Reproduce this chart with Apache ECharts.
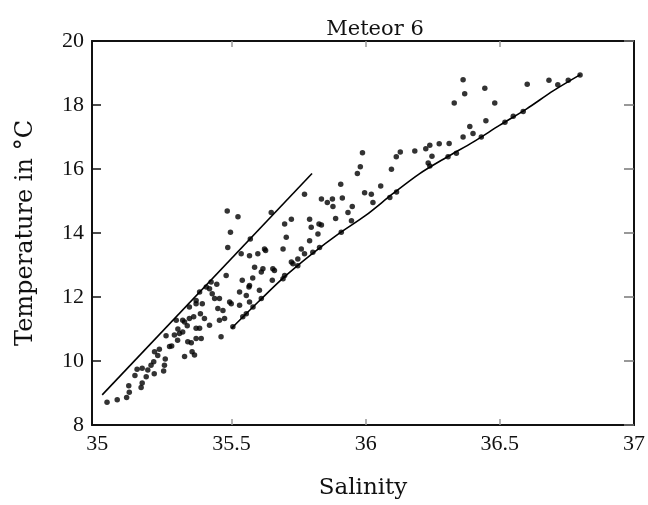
<!DOCTYPE html>
<html>
<head>
<meta charset="utf-8">
<script src="https://cdn.jsdelivr.net/npm/echarts@6/dist/echarts.min.js"></script>
<style>
  html, body { margin: 0; padding: 0; background: #fff; }
  #chart { width: 648px; height: 505px; }
</style>
</head>
<body>
<div id="chart"></div>
<script>
const salinity = [
  35.036, 35.074, 35.109, 35.119, 35.117, 35.163, 35.167, 35.182, 35.148, 35.167,
  35.188, 35.200, 35.210, 35.213, 35.231, 35.225, 35.253, 35.250, 35.247, 35.269,
  35.277, 35.256, 35.287, 35.318, 35.325, 35.350, 35.353, 35.362, 35.368, 35.325,
  35.359, 35.384, 35.368, 35.299, 35.337, 35.306, 35.294, 35.343, 35.368, 35.381,
  35.406, 35.424, 35.418, 35.437, 35.455, 35.449, 35.468, 35.391, 35.399, 35.418,
  35.381, 35.455, 35.474, 35.505, 35.461, 35.486, 35.536, 35.567, 35.598, 35.627,
  35.586, 35.611, 35.480, 35.540, 35.579, 35.565, 35.604, 35.493, 35.530, 35.567,
  35.530, 35.555, 35.567, 35.542, 35.499, 35.484, 35.524, 35.496, 35.772, 35.835,
  35.857, 35.723, 35.698, 35.791, 35.797, 35.826, 35.822, 35.704, 35.692, 35.760,
  35.791, 35.828, 35.747, 35.723, 35.772, 35.617, 35.660, 35.698, 35.747, 35.623,
  35.654, 35.988, 35.980, 35.969, 35.907, 35.876, 35.878, 35.913, 35.996, 36.021,
  36.027, 36.056, 36.096, 36.114, 36.129, 35.950, 35.934, 35.888, 35.835, 36.363,
  36.369, 36.330, 36.444, 36.481, 36.448, 36.388, 36.400, 36.363, 36.311, 36.274,
  36.239, 36.224, 36.183, 36.247, 36.233, 36.602, 36.683, 36.519, 36.550, 36.587,
  36.716, 36.755, 36.799, 36.338, 36.307, 36.431, 36.090, 36.115, 35.947, 35.909,
  35.803, 35.652, 35.692, 35.729, 35.611, 35.580, 35.555, 36.239, 35.648, 35.570,
  35.318, 35.343, 35.387, 35.368, 35.428, 35.335, 35.300, 35.445, 35.212, 35.140
];
const temperature = [
  8.71, 8.79, 8.86, 9.02, 9.23, 9.17, 9.31, 9.51, 9.74, 9.77,
  9.72, 9.87, 9.98, 10.29, 10.37, 10.17, 10.06, 9.87, 9.69, 10.45,
  10.47, 10.79, 10.81, 10.91, 10.14, 10.57, 10.29, 10.19, 11.02, 11.22,
  11.38, 11.48, 11.79, 10.65, 10.60, 10.86, 11.27, 11.69, 11.89, 12.16,
  12.31, 12.47, 12.26, 11.95, 11.95, 11.64, 11.58, 11.79, 11.33, 11.12,
  11.02, 11.27, 11.33, 11.07, 10.76, 13.55, 13.35, 13.29, 13.35, 13.45,
  12.93, 12.78, 12.67, 12.52, 12.59, 12.31, 12.21, 11.84, 11.74, 11.84,
  12.16, 12.05, 12.36, 11.38, 11.79, 14.69, 14.51, 14.02, 15.21, 15.06,
  14.95, 14.43, 14.28, 14.43, 14.18, 14.28, 13.97, 13.87, 13.50, 13.50,
  13.76, 13.55, 13.19, 13.09, 13.35, 12.88, 12.83, 12.67, 12.98, 13.50,
  12.88, 16.51, 16.07, 15.86, 15.52, 15.06, 14.83, 15.09, 15.26, 15.21,
  14.95, 15.47, 15.99, 16.38, 16.53, 14.83, 14.64, 14.45, 14.25, 18.79,
  18.35, 18.06, 18.52, 18.06, 17.51, 17.33, 17.11, 17.00, 16.80, 16.79,
  16.74, 16.63, 16.56, 16.40, 16.19, 18.65, 18.77, 17.46, 17.65, 17.80,
  18.63, 18.77, 18.94, 16.49, 16.38, 17.00, 15.11, 15.28, 14.38, 14.02,
  13.40, 12.52, 12.57, 13.04, 11.95, 11.69, 11.48, 16.09, 14.64, 13.81,
  11.27, 11.33, 10.70, 10.70, 12.10, 11.10, 11.00, 12.40, 9.60, 9.55
];

// upper boundary line
const upperSal = [35.018, 35.80];
const upperTemp = [8.94, 15.86];

// lower boundary curve
const lowerSal = [35.50, 35.60, 35.70, 35.80, 35.90, 36.00, 36.10, 36.20, 36.30, 36.40, 36.50, 36.60, 36.70, 36.80];
const lowerTemp = [11.02, 11.85, 12.65, 13.35, 13.98, 14.55, 15.22, 15.85, 16.36, 16.84, 17.37, 17.88, 18.45, 18.95];

const xLabels = [35, 35.5, 36, 36.5, 37];
const xInnerTicks = [35.5, 36, 36.5];

const labelFont = '"Liberation Serif", "DejaVu Serif", serif';
const nameFont = '"DejaVu Serif", "Liberation Serif", serif';

const chart = echarts.init(document.getElementById('chart'));

const points = salinity.map((s, i) => [s, temperature[i]]);
const upper = upperSal.map((s, i) => [s, upperTemp[i]]);
const lower = lowerSal.map((s, i) => [s, lowerTemp[i]]);

const option = {
  animation: false,
  backgroundColor: '#fff',
  title: {
    text: 'Meteor 6',
    left: 370,
    top: 14,
    textAlign: 'center',
    textStyle: { fontFamily: nameFont, fontSize: 21, fontWeight: 'normal', color: '#111' }
  },
  grid: { left: 92, right: 14, top: 41, bottom: 78 },
  xAxis: [
    {
      type: 'value',
      min: 34.98,
      max: 37,
      position: 'bottom',
      name: 'Salinity',
      nameLocation: 'middle',
      nameGap: 52,
      nameTextStyle: { fontFamily: nameFont, fontSize: 23, color: '#111' },
      axisLine: { lineStyle: { color: '#111', width: 2 } },
      axisTick: { inside: true, length: 6, customValues: xInnerTicks, lineStyle: { color: '#999', width: 1.5 } },
      axisLabel: { customValues: xLabels, fontFamily: labelFont, fontSize: 22, color: '#111', margin: 8 },
      splitLine: { show: false }
    },
    {
      type: 'value',
      min: 34.98,
      max: 37,
      position: 'top',
      axisLine: { lineStyle: { color: '#111', width: 2 } },
      axisTick: { inside: true, length: 6, customValues: xInnerTicks, lineStyle: { color: '#999', width: 1.5 } },
      axisLabel: { show: false },
      splitLine: { show: false }
    }
  ],
  yAxis: [
    {
      type: 'value',
      min: 8,
      max: 20,
      interval: 2,
      position: 'left',
      name: 'Temperature in °C',
      nameLocation: 'middle',
      nameGap: 54,
      nameTextStyle: { fontFamily: nameFont, fontSize: 24, color: '#111' },
      axisLine: { show: true, lineStyle: { color: '#111', width: 2 } },
      axisTick: { show: true, inside: true, length: 9, lineStyle: { color: '#111', width: 1.5 } },
      axisLabel: { fontFamily: labelFont, fontSize: 22, color: '#111', margin: 8 },
      splitLine: { show: false }
    },
    {
      type: 'value',
      min: 8,
      max: 20,
      interval: 2,
      position: 'right',
      axisLine: { show: true, lineStyle: { color: '#111', width: 2 } },
      axisTick: { show: true, inside: true, length: 10, lineStyle: { color: '#777', width: 1.5 } },
      axisLabel: { show: false },
      splitLine: { show: false }
    }
  ],
  series: [
    {
      name: 'upper',
      type: 'line',
      data: upper,
      showSymbol: false,
      lineStyle: { color: '#000', width: 1.6 }
    },
    {
      name: 'lower',
      type: 'line',
      data: lower,
      showSymbol: false,
      smooth: 0.3,
      lineStyle: { color: '#000', width: 1.6 }
    },
    {
      name: 'obs',
      type: 'scatter',
      data: points,
      symbolSize: 5.5,
      itemStyle: { color: '#000' }
    }
  ]
};

chart.setOption(option);
</script>
</body>
</html>
